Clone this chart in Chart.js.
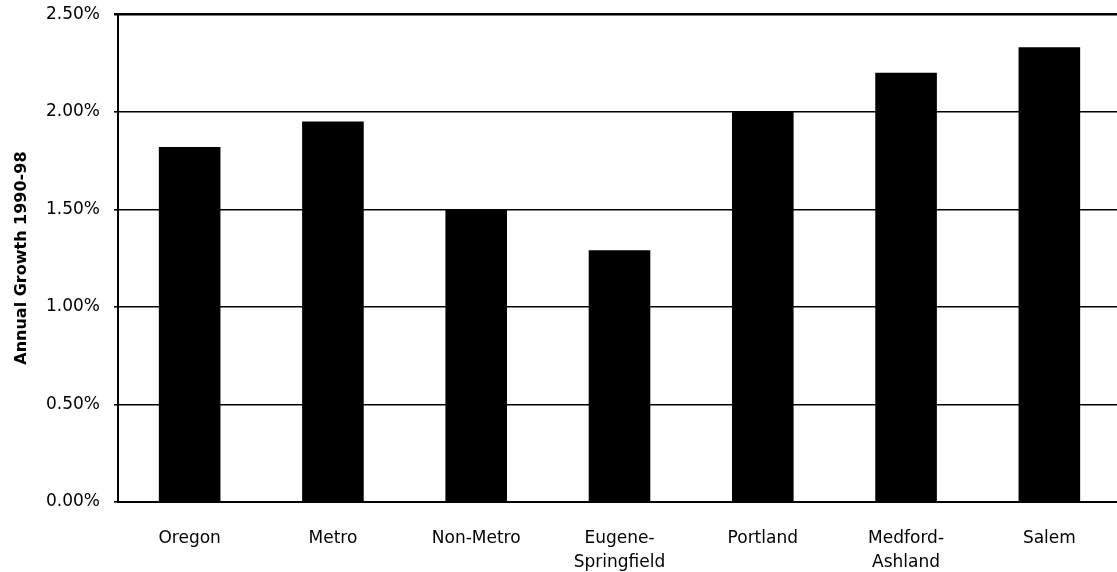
<!DOCTYPE html>
<html>
<head>
<meta charset="utf-8">
<script src="https://cdn.jsdelivr.net/npm/chart.js@4"></script>
<style>
  html, body { margin: 0; padding: 0; background: #fff; overflow: hidden; }
  #wrap { width: 1130px; height: 582px; margin-top: -10px; }
</style>
</head>
<body>
<div id="wrap"><canvas id="growthChart" width="1130" height="582"></canvas></div>
<script>
  // data
  const regions = ['Oregon', 'Metro', 'Non-Metro', ['Eugene-', 'Springfield'], 'Portland', ['Medford-', 'Ashland'], 'Salem'];
  const annualGrowth = [1.82, 1.95, 1.50, 1.29, 2.00, 2.20, 2.33];
  const yTicks = [0, 0.5, 1.0, 1.5, 2.0, 2.5];
  const yTitle = 'Annual Growth 1990-98';

  const tickFont = { family: 'DejaVu Sans', size: 17 };

  new Chart(document.getElementById('growthChart').getContext('2d'), {
    type: 'bar',
    data: {
      labels: regions,
      datasets: [{
        data: annualGrowth,
        backgroundColor: '#000',
        borderWidth: 0,
        barPercentage: 0.43,
        categoryPercentage: 1.0
      }]
    },
    options: {
      responsive: false,
      animation: false,
      layout: { padding: { top: 0, right: 9, bottom: 0, left: 0 } },
      plugins: {
        legend: { display: false },
        tooltip: { enabled: false }
      },
      scales: {
        x: {
          grid: { display: false },
          border: { display: true, color: '#000', width: 2 },
          ticks: { color: '#000', font: { family: 'DejaVu Sans', size: 17, lineHeight: 1.45 }, padding: 16, maxRotation: 0, autoSkip: false },
          afterFit: (s) => { s.height = 70; }
        },
        y: {
          min: 0,
          max: 2.5,
          afterBuildTicks: (s) => { s.ticks = yTicks.map(v => ({ value: v })); },
          grid: {
            color: '#000',
            lineWidth: (c) => (c.tick && c.tick.value === 2.5 ? 2.5 : 1.6),
            tickLength: 4
          },
          border: { display: true, color: '#000', width: 2 },
          ticks: {
            color: '#000',
            font: tickFont,
            padding: 14,
            callback: (v) => v.toFixed(2) + '%'
          },
          title: {
            display: true,
            text: yTitle,
            color: '#000',
            font: { family: 'DejaVu Sans', size: 16, weight: 'bold' },
            padding: { top: 12, bottom: 2 }
          },
          afterFit: (s) => { s.width = 118; }
        }
      }
    }
  });
</script>
</body>
</html>
